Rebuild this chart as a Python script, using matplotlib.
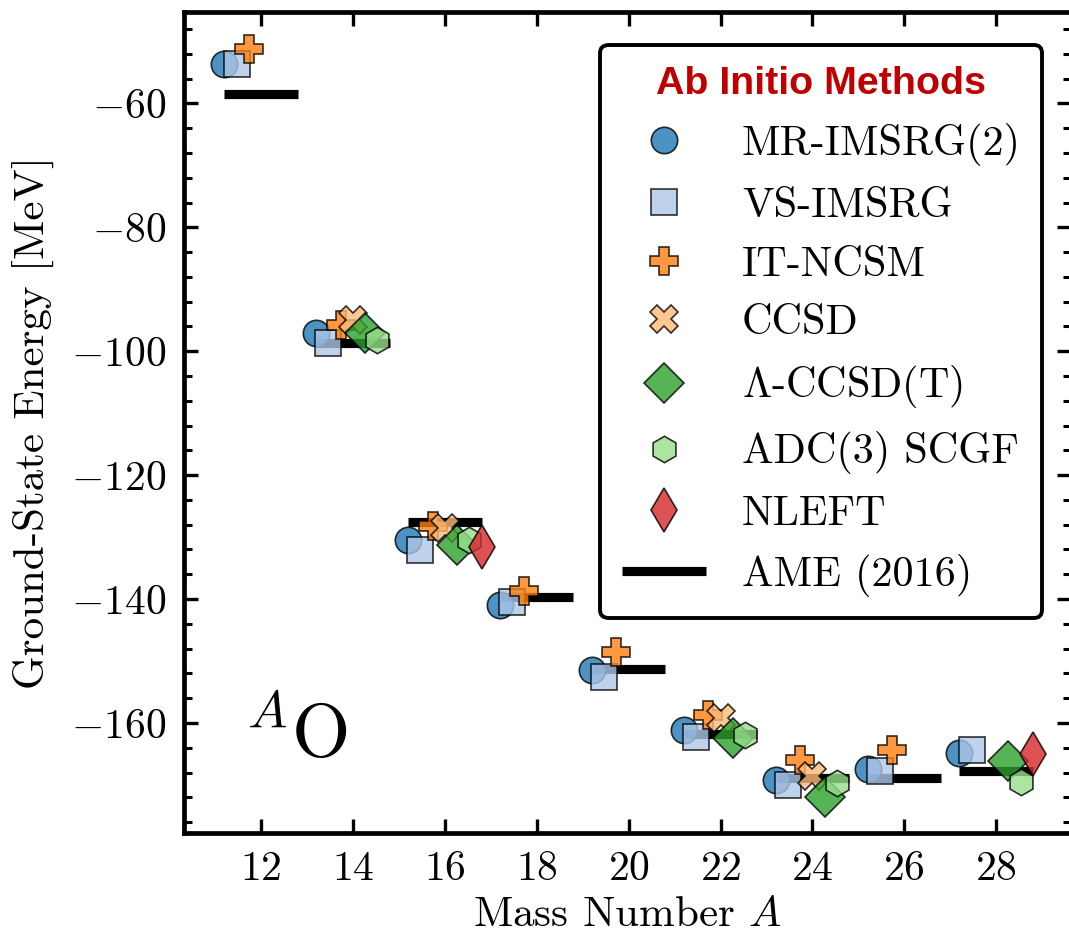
import matplotlib
matplotlib.use('Agg')
import matplotlib.pyplot as plt
import numpy as np
from matplotlib.ticker import MultipleLocator

plt.rcParams['font.family'] = 'serif'
plt.rcParams['font.serif'] = ['cmr10']
plt.rcParams['mathtext.fontset'] = 'cm'
plt.rcParams['axes.formatter.use_mathtext'] = True

# ground-state energies of oxygen isotopes [MeV]
A_all = [12, 14, 16, 18, 20, 22, 24, 26, 28]
mr_imsrg = [-53.6, -97.0, -130.4, -140.9, -151.4, -161.1, -169.2, -167.5, -164.9]
vs_imsrg = [-53.6, -98.6, -132.1, -140.4, -152.6, -162.3, -170.0, -167.7, -164.4]
A_ncsm = [12, 14, 16, 18, 20, 22, 24, 26]
it_ncsm = [-51.2, -95.7, -128.2, -138.7, -148.6, -158.7, -165.9, -164.3]
A_ccsd = [14, 16, 22, 24]
ccsd = [-95.0, -128.5, -159.2, -168.6]
A_cc = [14, 16, 22, 24, 28]
lccsdt = [-97.0, -131.2, -162.4, -171.9, -166.2]
adc3 = [-98.2, -130.4, -161.9, -169.7, -169.5]
A_nleft = [16, 28]
nleft = [-131.6, -165.0]
ame = [-58.5, -98.7, -127.6, -139.6, -151.3, -161.7, -168.8, -168.9, -167.8]

labels = ['MR-IMSRG(2)', 'VS-IMSRG', 'IT-NCSM', 'CCSD',
          r'$\Lambda$-CCSD(T)', 'ADC(3) SCGF', 'NLEFT']
series = [(A_all, mr_imsrg), (A_all, vs_imsrg), (A_ncsm, it_ncsm), (A_ccsd, ccsd),
          (A_cc, lccsdt), (A_cc, adc3), (A_nleft, nleft)]
markers = ['o', 's', 'P', 'X', 'D', 'h', 'd']
colors = ['#1f77b4', '#aec7e8', '#ff7f0e', '#ffbb78', '#2ca02c', '#98df8a', '#d62728']
sizes = [9.5, 9.5, 10, 10, 10, 9.5, 11]
offsets = np.linspace(-0.8, 0.8, 7)

fig = plt.figure(figsize=(5.345, 4.67), dpi=200)
ax = fig.add_axes([0.1724, 0.1085, 0.8296, 0.879])

A_arr = np.array(A_all)
ax.hlines(ame, A_arr - 0.8, A_arr + 0.8, colors='k', lw=3.3, zorder=1, label='AME (2016)')

for i in range(7):
    xs, ys = series[i]
    ax.plot(np.array(xs) + offsets[i], ys, linestyle='none', marker=markers[i],
            ms=sizes[i], mfc=colors[i], mec='k', mew=0.6, alpha=0.8,
            zorder=2 + i, label=labels[i])

ax.text(11.62, -165.6, r'$^{A}\mathrm{O}$', fontsize=27, ha='left', va='baseline')

ax.set_xlim(10.33, 29.63)
ax.set_ylim(-177.7, -45.2)
ax.set_xticks([12, 14, 16, 18, 20, 22, 24, 26, 28])
ax.yaxis.set_major_locator(MultipleLocator(20))
ax.yaxis.set_minor_locator(MultipleLocator(4))
ax.tick_params(which='both', direction='in', top=True, right=True, labelsize=15, pad=6.5)
ax.tick_params(which='major', length=5, width=1.2)
ax.tick_params(which='minor', length=3, width=1.1)
for s in ax.spines.values():
    s.set_linewidth(1.7)

ax.set_xlabel('Mass Number $A$', fontsize=15.5, labelpad=3)
ax.set_ylabel('Ground-State Energy [MeV]', fontsize=15.5, labelpad=6)

h, l = ax.get_legend_handles_labels()
order = [1, 2, 3, 4, 5, 6, 7, 0]
leg = ax.legend([h[k] for k in order], [l[k] for k in order],
                loc='upper right', bbox_to_anchor=(1042 / 1069, 1 - 45 / 934),
                bbox_transform=fig.transFigure, borderaxespad=0,
                fontsize=15.2, title='Ab Initio Methods',
                title_fontproperties={'family': 'Liberation Sans', 'weight': 'bold', 'size': 14.2},
                frameon=True, fancybox=True, framealpha=1, edgecolor='k',
                handlelength=2.0, handletextpad=0.85, labelspacing=0.5,
                borderpad=0.5)
leg.get_title().set_color('#c00000')
leg.get_frame().set_linewidth(1.4)

fig.savefig('out.png', dpi=200)
